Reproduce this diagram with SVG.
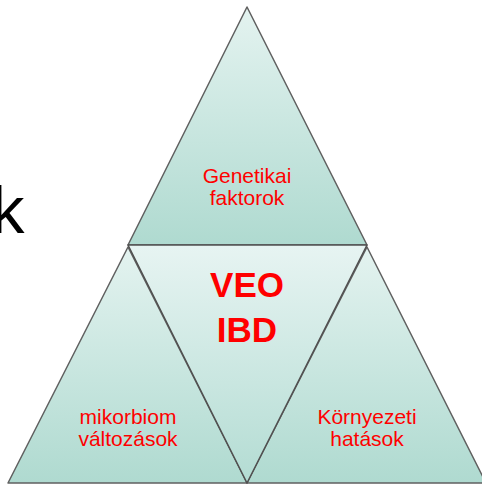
<svg xmlns="http://www.w3.org/2000/svg" width="482" height="485" viewBox="0 0 482 485">
<defs>
<linearGradient id="g" x1="0" y1="0" x2="0" y2="1">
<stop offset="0" stop-color="#e4f3f0"/>
<stop offset="1" stop-color="#afdad0"/>
</linearGradient>
<linearGradient id="gm" x1="0" y1="0" x2="0" y2="1">
<stop offset="0" stop-color="#e7f4f2"/>
<stop offset="1" stop-color="#b3dcd3"/>
</linearGradient>
<style>
.tri{fill:url(#g);stroke:#606060;stroke-width:1.5;stroke-linejoin:round}
.mid{fill:url(#gm);stroke:#505050;stroke-width:1.5;stroke-linejoin:round}
.lbl{font-family:"Liberation Sans",Arial,sans-serif;font-size:21px;fill:#ff0000;text-anchor:middle}
.big{font-family:"Liberation Sans",Arial,sans-serif;font-size:35px;font-weight:bold;fill:#ff0000;text-anchor:middle}
</style>
</defs>
<rect width="482" height="485" fill="#ffffff"/>
<text x="-9" y="233" font-family="'Liberation Sans',Arial,sans-serif" font-size="67" fill="#000000">k</text>
<g id="top">
<polygon class="tri" points="247,7 367,245 128,245"/>
<text class="lbl" x="247" y="183">Genetikai</text>
<text class="lbl" x="247" y="205">faktorok</text>
</g>
<g id="left">
<polygon class="tri" points="128,247 247,483 8,483"/>
<text class="lbl" x="128" y="424">mikorbiom</text>
<text class="lbl" x="128" y="446">változások</text>
</g>
<g id="right">
<polygon class="tri" points="367,247 486,483 247,483"/>
<text class="lbl" x="367" y="424">Környezeti</text>
<text class="lbl" x="367" y="446">hatások</text>
</g>
<g id="center">
<polygon class="mid" points="128,245 367,245 247,483"/>
<text class="big" x="247" y="297">VEO</text>
<text class="big" x="247" y="342">IBD</text>
</g>
</svg>
